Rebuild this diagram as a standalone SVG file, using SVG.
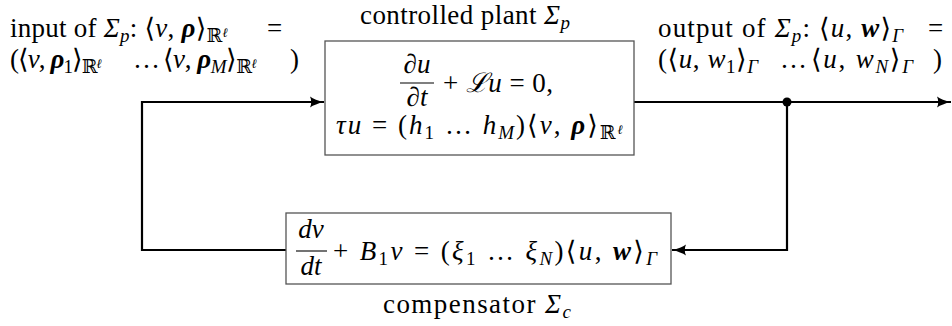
<svg xmlns="http://www.w3.org/2000/svg" width="952" height="326" viewBox="0 0 952 326">
<style>
text{font-family:"Liberation Serif","DejaVu Serif",serif;font-size:27px;fill:#000}
.i{font-style:italic}
.bi{font-style:italic;font-weight:bold}
.s{font-size:19px}
.ss{font-size:13px}
.box{fill:#fff;stroke:#555;stroke-width:1.3}
.bar{stroke:#000;stroke-width:1.1}
.wire{fill:none;stroke:#000;stroke-width:2.2}
</style>
<defs>
<marker id="ah" markerUnits="userSpaceOnUse" markerWidth="16" markerHeight="12" refX="14" refY="6" orient="auto">
<path d="M0,0.5 Q5,4 14,6 Q5,8 0,11.5 Q2.5,6 0,0.5 z" fill="#000"/>
</marker>
</defs>
<g id="connectors">
<path class="wire" d="M286,250 H142 V102 H324" marker-end="url(#ah)"/>
<path class="wire" d="M634,102 H951" marker-end="url(#ah)"/>
<path class="wire" d="M787,102 V250 H672" marker-end="url(#ah)"/>
<circle cx="787" cy="102" r="4.5" fill="#000"/>
</g>
<g id="input-label">
<text x="10" y="37" textLength="218">input of <tspan class="i">Σ</tspan><tspan class="i s" dy="5">p</tspan><tspan dy="-5">: ⟨</tspan><tspan class="i">v</tspan>, <tspan class="bi">ρ</tspan>⟩<tspan class="s" dy="5">ℝ</tspan><tspan class="i ss" dy="-5">ℓ</tspan></text>
<text x="267" y="37">=</text>
<text x="10" y="68" textLength="92">(⟨<tspan class="i">v</tspan>, <tspan class="bi">ρ</tspan><tspan class="s" dy="5">1</tspan><tspan dy="-5">⟩</tspan><tspan class="s" dy="5">ℝ</tspan><tspan class="i ss" dy="-5">ℓ</tspan></text>
<text x="133" y="68" textLength="24">…</text>
<text x="163" y="68" textLength="94">⟨<tspan class="i">v</tspan>, <tspan class="bi">ρ</tspan><tspan class="i s" dy="5">M</tspan><tspan dy="-5">⟩</tspan><tspan class="s" dy="5">ℝ</tspan><tspan class="i ss" dy="-5">ℓ</tspan></text>
<text x="290" y="68">)</text>
</g>
<g id="output-label">
<text x="658" y="37" textLength="245">output of <tspan class="i">Σ</tspan><tspan class="i s" dy="5">p</tspan><tspan dy="-5">: ⟨</tspan><tspan class="i">u</tspan>, <tspan class="bi">w</tspan>⟩<tspan class="i s" dy="5">Γ</tspan></text>
<text x="928" y="37">=</text>
<text x="658" y="68" textLength="100">(⟨<tspan class="i">u</tspan>, <tspan class="i">w</tspan><tspan class="s" dy="5">1</tspan><tspan dy="-5">⟩</tspan><tspan class="i s" dy="5">Γ</tspan></text>
<text x="780" y="68" textLength="23">…</text>
<text x="811" y="68" textLength="102">⟨<tspan class="i">u</tspan>, <tspan class="i">w</tspan><tspan class="i s" dy="5">N</tspan><tspan dy="-5">⟩</tspan><tspan class="i s" dy="5">Γ</tspan></text>
<text x="933" y="68">)</text>
</g>
<g id="plant">
<text x="360" y="24" textLength="210">controlled plant <tspan class="i">Σ</tspan><tspan class="i s" dy="5">p</tspan></text>
<rect class="box" x="325" y="41" width="309" height="114"/>
<text x="417" y="73" text-anchor="middle" class="i">∂u</text>
<line class="bar" x1="400" y1="83" x2="434" y2="83"/>
<text x="417" y="106" text-anchor="middle" class="i">∂t</text>
<text x="443" y="92" textLength="110">+ <tspan class="i">ℒu</tspan> = 0,</text>
<text x="336" y="134" textLength="287"><tspan class="i">τu</tspan> = (<tspan class="i">h</tspan><tspan class="s" dy="5">1</tspan><tspan dy="-5"> … </tspan><tspan class="i">h</tspan><tspan class="i s" dy="5">M</tspan><tspan dy="-5">)⟨</tspan><tspan class="i">v</tspan>, <tspan class="bi">ρ</tspan>⟩<tspan class="s" dy="5">ℝ</tspan><tspan class="i ss" dy="-5">ℓ</tspan></text>
</g>
<g id="compensator">
<rect class="box" x="286" y="213" width="385" height="71"/>
<text x="311" y="238" text-anchor="middle" class="i">dv</text>
<line class="bar" x1="296" y1="251" x2="327" y2="251"/>
<text x="311" y="275" text-anchor="middle" class="i">dt</text>
<text x="333" y="260" textLength="324">+ <tspan class="i">B</tspan><tspan class="s" dy="5">1</tspan><tspan class="i" dy="-5">v</tspan> = (<tspan class="i">ξ</tspan><tspan class="s" dy="5">1</tspan><tspan dy="-5"> … </tspan><tspan class="i">ξ</tspan><tspan class="i s" dy="5">N</tspan><tspan dy="-5">)⟨</tspan><tspan class="i">u</tspan>, <tspan class="bi">w</tspan>⟩<tspan class="i s" dy="5">Γ</tspan></text>
<text x="383" y="313" textLength="188">compensator <tspan class="i">Σ</tspan><tspan class="i s" dy="5">c</tspan></text>
</g>
</svg>
